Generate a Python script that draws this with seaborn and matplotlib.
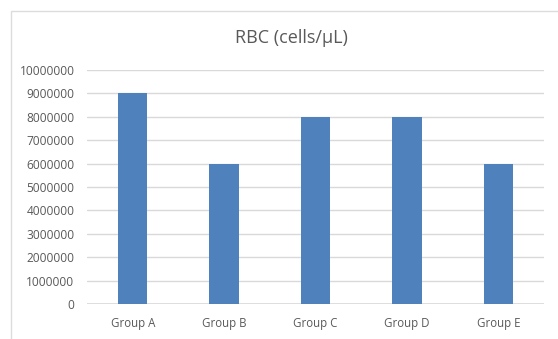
import matplotlib
matplotlib.use("Agg")
import matplotlib.pyplot as plt
import seaborn as sns
import pandas as pd
from matplotlib.patches import Rectangle

groups = ["Group A", "Group B", "Group C", "Group D", "Group E"]
rbc_counts = [9000000, 6000000, 8000000, 8000000, 6000000]
y_ticks = list(range(0, 10000001, 1000000))

df = pd.DataFrame({"group": groups, "rbc": rbc_counts})

sns.set_style("white")
plt.rcParams["font.family"] = ["Open Sans", "DejaVu Sans"]

text_color = "#595959"
grid_color = "#d9d9d9"
bar_color = "#4f81bd"

fig = plt.figure(figsize=(5.58, 3.39), dpi=100)
fig.patch.set_facecolor("white")

# chart frame
fig.patches.append(Rectangle((11 / 558, -0.1), 1.2, 1 - 11 / 339 + 0.1,
                             transform=fig.transFigure, fill=False,
                             edgecolor="#dcdcdc", linewidth=1.0))

ax = fig.add_axes([87 / 558, 1 - 304 / 339, (544 - 87) / 558, (304 - 70) / 339])
sns.barplot(data=df, x="group", y="rbc", color=bar_color, width=0.32,
            saturation=1, linewidth=0, ax=ax, zorder=3)

ax.set_ylim(0, 10000000)
ax.set_xlim(-0.5, len(groups) - 0.5)
ax.set_yticks(y_ticks)
ax.set_yticklabels([str(v) for v in y_ticks])
ax.yaxis.grid(True, color=grid_color, linewidth=1)
ax.set_axisbelow(True)
for s in ax.spines.values():
    s.set_visible(False)
ax.axhline(0, color=grid_color, linewidth=1.2, zorder=2)
ax.tick_params(axis="both", length=0, labelcolor=text_color)
ax.tick_params(axis="y", pad=9, labelsize=8.6)
ax.tick_params(axis="x", pad=9, labelsize=8.3)
ax.set_xlabel("")
ax.set_ylabel("")

fig.text(291 / 558, 1 - 38 / 339, "RBC (cells/µL)", ha="center", va="center",
         fontsize=13, color=text_color)

fig.savefig("out.png", dpi=100)
